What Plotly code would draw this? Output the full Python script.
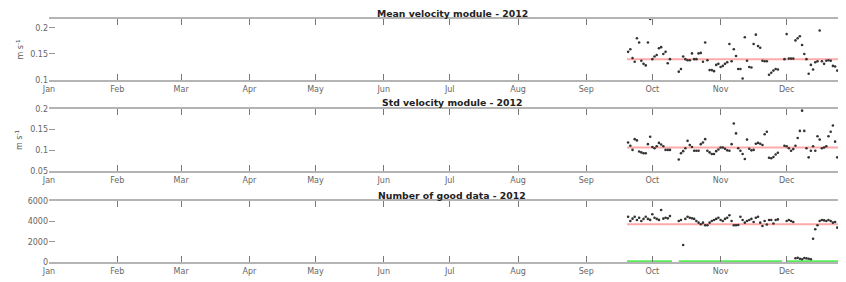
import pandas as pd
import plotly.graph_objects as go
from plotly.subplots import make_subplots

# ---- data ----
start_date = "2012-09-20"
n_days = 100
dates = pd.date_range(start_date, periods=n_days, freq="D")

mean_velocity = [
    0.154, 0.159, 0.142, 0.135, 0.180, 0.172, 0.137, 0.131, 0.128, 0.172,
    0.217, 0.140, 0.145, 0.148, 0.161, 0.163, 0.150, 0.154, 0.132, 0.140,
    None, None, None, 0.116, 0.121, 0.145, 0.140, 0.138, 0.138, 0.151,
    0.140, 0.140, 0.151, 0.152, 0.135, 0.172, 0.138, 0.119, 0.119, 0.117,
    0.129, 0.131, 0.125, 0.127, 0.131, 0.134, 0.169, 0.136, 0.159, 0.146,
    0.121, 0.121, 0.103, 0.182, 0.137, 0.125, 0.124, 0.169, 0.187, 0.165,
    0.162, 0.137, 0.136, 0.136, 0.110, 0.114, 0.118, 0.121, 0.120, None,
    None, 0.140, 0.188, 0.141, 0.141, 0.141, 0.176, 0.180, 0.184, 0.167,
    0.150, 0.140, 0.112, 0.129, 0.120, 0.134, 0.136, 0.195, 0.136, 0.131,
    0.137, 0.138, 0.137, 0.127, 0.126, 0.118, 0.116, 0.120, 0.111, 0.100,
]

std_velocity = [
    0.119, 0.111, 0.101, 0.127, 0.124, 0.097, 0.095, 0.093, 0.093, 0.115,
    0.133, 0.108, 0.105, 0.110, 0.118, 0.114, 0.110, 0.101, 0.101, 0.101,
    None, None, None, 0.078, 0.093, 0.098, 0.105, 0.123, 0.113, 0.108,
    0.099, 0.099, 0.099, 0.115, 0.119, 0.127, 0.099, 0.095, 0.091, 0.091,
    0.098, 0.102, 0.107, 0.107, 0.104, 0.100, 0.099, 0.115, 0.165, 0.141,
    0.105, 0.099, 0.091, 0.079, 0.126, 0.104, 0.100, 0.101, 0.116, 0.118,
    0.116, 0.113, 0.139, 0.145, 0.082, 0.081, 0.084, 0.090, 0.094, None,
    None, 0.111, 0.110, 0.105, 0.099, 0.103, 0.111, 0.130, 0.147, 0.196,
    0.147, 0.105, 0.083, 0.099, 0.110, 0.099, 0.134, 0.126, 0.105, 0.107,
    0.110, 0.134, 0.145, 0.160, 0.121, 0.083, 0.097, 0.110, 0.090, 0.085,
]

good_data = [
    4460, 4040, 4270, 4460, 4140, 4360, 4040, 4250, 4460, 4250,
    4150, 4700, 4360, 4250, 4150, 5120, 4270, 4360, 4300, 4520,
    None, None, None, 4040, 4140, 1690, 4250, 4460, 4360, 4300,
    4250, 4040, 3880, 3720, 3880, 3620, 3620, 3880, 4040, 4140,
    4250, 4360, 4140, 4040, 4250, 4360, 4600, 4040, 3620, 3620,
    3650, 4460, 4140, 3880, 4040, 4140, 4250, 3950, 4360, 4460,
    3880, 3550, 4040, 3700, 4140, 4140, 3800, 4140, 4200, None,
    None, None, 4040, 4140, 4040, 3950, 390, 450, 350, 300,
    420, 380, 350, 300, 2310, 3230, 3620, 4040, 4140, 4100,
    4040, 4140, 4040, 3880, 3950, 3390, 3800, 3880, 3720, 3950,
]

mean_levels = [0.140, 0.107, 3720]
mean_start = "2012-09-19 12:00"
range_start = "2012-01-01"
range_end = "2012-12-31 14:00"

green_x = ["2012-09-19 12:00", "2012-10-09 22:00", None,
           "2012-10-13 00:00", "2012-11-28 22:00", None,
           "2012-11-30 17:00", range_end]
green_y = [0, 0, None, 0, 0, None, 0, 0]

titles = ["Mean velocity module - 2012", "Std velocity module - 2012", "Number of good data - 2012"]
ytick_vals = [[0.1, 0.15, 0.2], [0.05, 0.1, 0.15, 0.2], [0, 2000, 4000, 6000]]
ytick_text = [["0.1", "0.15", "0.2"], ["0.05", "0.1", "0.15", "0.2"], ["0", "2000", "4000", "6000"]]
y_ranges = [[0.1, 0.217], [0.05, 0.2], [0, 6000]]
y_units = ["m s<sup>-1</sup>", "m s<sup>-1</sup>", None]

# ---- figure ----
OFF = 8                      # page body margin of the html page
W, H = 846, 282 - OFF        # plot area runs a little past the window's right edge
L = 49 - OFF
panels_px = [(19, 80), (109, 171), (201, 262.3)]  # top, bottom in window pixels
domains = [[1 - (b - OFF) / H, 1 - (t - OFF) / H] for t, b in panels_px]

fig = make_subplots(rows=3, cols=1)
series = [mean_velocity, std_velocity, good_data]
FONT = "DejaVu Sans"

for i, vals in enumerate(series):
    r = i + 1
    fig.add_trace(go.Scatter(x=[mean_start, range_end], y=[mean_levels[i]] * 2,
                             mode="lines", line=dict(color="rgb(255,170,170)", width=2),
                             hoverinfo="skip"), row=r, col=1)
    if i == 2:
        fig.add_trace(go.Scatter(x=green_x, y=green_y, mode="lines",
                                 line=dict(color="rgb(90,235,90)", width=4),
                                 connectgaps=False, cliponaxis=False), row=r, col=1)
    fig.add_trace(go.Scatter(x=dates, y=vals, mode="markers",
                             marker=dict(color="#333", size=2.6, line=dict(width=0))),
                  row=r, col=1)

title_x = (452 - 49) / (854 - 49)
unit_x = (19 - 49) / (854 - 49)
for i in range(3):
    sfx = "" if i == 0 else str(i + 1)
    fig.layout["xaxis" + sfx].update(
        domain=[0, 1], range=[range_start, range_end], type="date",
        tick0="2012-01-01", dtick="M1", tickformat="%b",
        showline=True, linecolor="#b4b4b4", linewidth=2, mirror="ticks",
        ticks="inside", ticklen=6, tickwidth=1, tickcolor="#777",
        showgrid=False, zeroline=False, automargin=False,
        tickfont=dict(family=FONT, size=8, color="#666"),
    )
    fig.layout["yaxis" + sfx].update(
        domain=domains[i], range=y_ranges[i], tickvals=ytick_vals[i], ticktext=ytick_text[i],
        showline=False, ticks="inside", ticklen=6, tickwidth=1, tickcolor="#999",
        showgrid=False, zeroline=False, automargin=False,
        tickfont=dict(family=FONT, size=8, color="#666"),
    )
    fig.add_annotation(text="<b>" + titles[i] + "</b>", xref="paper", yref="paper",
                       x=title_x, y=domains[i][1], xanchor="center",
                       yanchor="middle", yshift=6, showarrow=False,
                       font=dict(family=FONT, size=9.3, color="#222"))
    if y_units[i]:
        fig.add_annotation(text=y_units[i], xref="paper", yref="paper",
                           x=unit_x, y=sum(domains[i]) / 2, xanchor="center",
                           yanchor="middle", textangle=-90, showarrow=False,
                           font=dict(family=FONT, size=8, color="#555"))

fig.update_layout(width=W, height=H, margin=dict(l=L, r=0, t=0, b=0),
                  paper_bgcolor="white", plot_bgcolor="white", showlegend=False)

fig.write_html("out.html")
